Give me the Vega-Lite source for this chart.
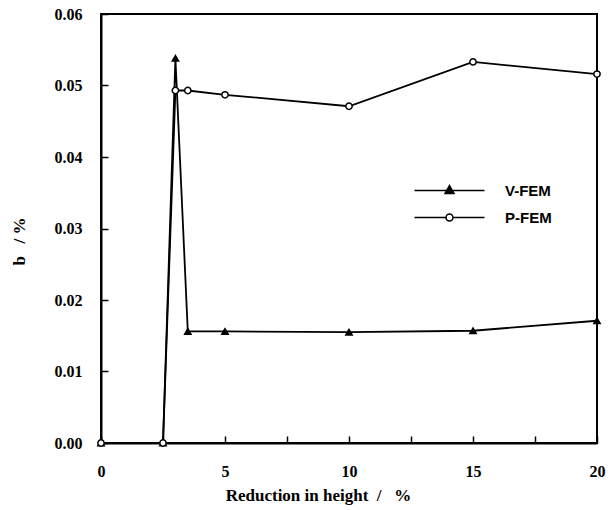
{
  "$schema": "https://vega.github.io/schema/vega-lite/v6.json",
  "autosize": "none",
  "padding": {"left": 101, "top": 14, "right": 13, "bottom": 67},
  "width": 496,
  "height": 429,
  "background": "white",
  "config": {
    "view": {"stroke": "black", "strokeWidth": 2},
    "axis": {"domainColor": "black", "domainWidth": 2, "tickColor": "black", "tickWidth": 1.5, "tickOpacity": 1,
      "labelFont": "Liberation Serif", "labelFontWeight": "bold", "labelFontSize": 16, "labelColor": "black",
      "titleFont": "Liberation Serif", "titleFontWeight": "bold", "titleFontSize": 17, "titleColor": "black"}
  },
  "data": {"values": [
    {"series": "V-FEM", "x": 0, "y": 0},
    {"series": "V-FEM", "x": 2.5, "y": 0},
    {"series": "V-FEM", "x": 3, "y": 0.0538},
    {"series": "V-FEM", "x": 3.5, "y": 0.0156},
    {"series": "V-FEM", "x": 5, "y": 0.0156},
    {"series": "V-FEM", "x": 10, "y": 0.0155},
    {"series": "V-FEM", "x": 15, "y": 0.0157},
    {"series": "V-FEM", "x": 20, "y": 0.0171},
    {"series": "P-FEM", "x": 0, "y": 0},
    {"series": "P-FEM", "x": 2.5, "y": 0},
    {"series": "P-FEM", "x": 3, "y": 0.0493},
    {"series": "P-FEM", "x": 3.5, "y": 0.0493},
    {"series": "P-FEM", "x": 5, "y": 0.0487},
    {"series": "P-FEM", "x": 10, "y": 0.0471},
    {"series": "P-FEM", "x": 15, "y": 0.0533},
    {"series": "P-FEM", "x": 20, "y": 0.0516}
  ]},
  "layer": [
    {
      "mark": {"type": "line", "stroke": "black", "strokeWidth": 1.8},
      "encoding": {
        "x": {"field": "x", "type": "quantitative", "scale": {"domain": [0, 20], "nice": false},
          "axis": {"values": [0, 2.5, 5, 7.5, 10, 12.5, 15, 17.5, 20],
            "labelExpr": "datum.value % 5 == 0 ? datum.label : ''",
            "ticks": true, "grid": false,
            "tickSize": -7,
            "labelPadding": 27,
            "labelFlush": false,
            "title": "Reduction in height\u00a0\u00a0/\u00a0\u00a0\u00a0%", "titleX": 217, "titleY": 52, "titleBaseline": "middle", "titleAnchor": "middle"}},
        "y": {"field": "y", "type": "quantitative", "scale": {"domain": [0, 0.06], "nice": false},
          "axis": {"values": [0, 0.005, 0.01, 0.015, 0.02, 0.025, 0.03, 0.035, 0.04, 0.045, 0.05, 0.055, 0.06],
            "labelExpr": "abs(round(datum.value*100) - datum.value*100) < 1e-6 ? format(datum.value, '.2f') : ''",
            "ticks": true, "grid": false,
            "tickSize": -7,
            "labelPadding": 26,
            "labelFlush": false,
            "title": "b\u00a0\u00a0\u00a0/\u00a0%", "titleX": -82, "titleY": 227, "titleAngle": -90, "titleBaseline": "middle", "titleAnchor": "middle"}},
        "detail": {"field": "series"}
      }
    },
    {
      "mark": {"type": "point", "stroke": "black", "strokeWidth": 1.5, "opacity": 1, "size": 40},
      "encoding": {
        "x": {"field": "x", "type": "quantitative"},
        "y": {"field": "y", "type": "quantitative"},
        "shape": {"condition": {"test": "datum.series == 'V-FEM'", "value": "triangle-up"}, "value": "circle"},
        "fill": {"condition": {"test": "datum.series == 'V-FEM'", "value": "black"}, "value": "white"}
      }
    },
    {
      "transform": [{"filter": "datum.x < 0"}],
      "mark": {"type": "point", "filled": true, "strokeWidth": 1.5},
      "encoding": {
        "x": {"field": "x", "type": "quantitative"},
        "y": {"field": "y", "type": "quantitative"},
        "shape": {"field": "series", "type": "nominal",
          "scale": {"domain": ["V-FEM", "P-FEM"], "range": ["M-35,0H35M0,-5L4.5,3L-4.5,3Z", "M-35,0H-3.5M3.5,0H35M3.5,0A3.5,3.5 0 1 1 -3.5,0A3.5,3.5 0 1 1 3.5,0"]},
          "legend": {"title": null, "orient": "none", "legendX": 341, "legendY": 169, "padding": 0,
            "symbolSize": 4, "labelOffset": 48, "rowPadding": 11,
            "symbolStrokeWidth": 1.5, "symbolOpacity": 1,
            "labelFont": "Liberation Sans", "labelFontWeight": "bold", "labelFontSize": 15, "labelColor": "black"}},
        "fill": {"field": "series", "type": "nominal",
          "scale": {"domain": ["V-FEM", "P-FEM"], "range": ["black", "white"]}},
        "stroke": {"field": "series", "type": "nominal",
          "scale": {"domain": ["V-FEM", "P-FEM"], "range": ["black", "black"]}}
      }
    }
  ]
}
